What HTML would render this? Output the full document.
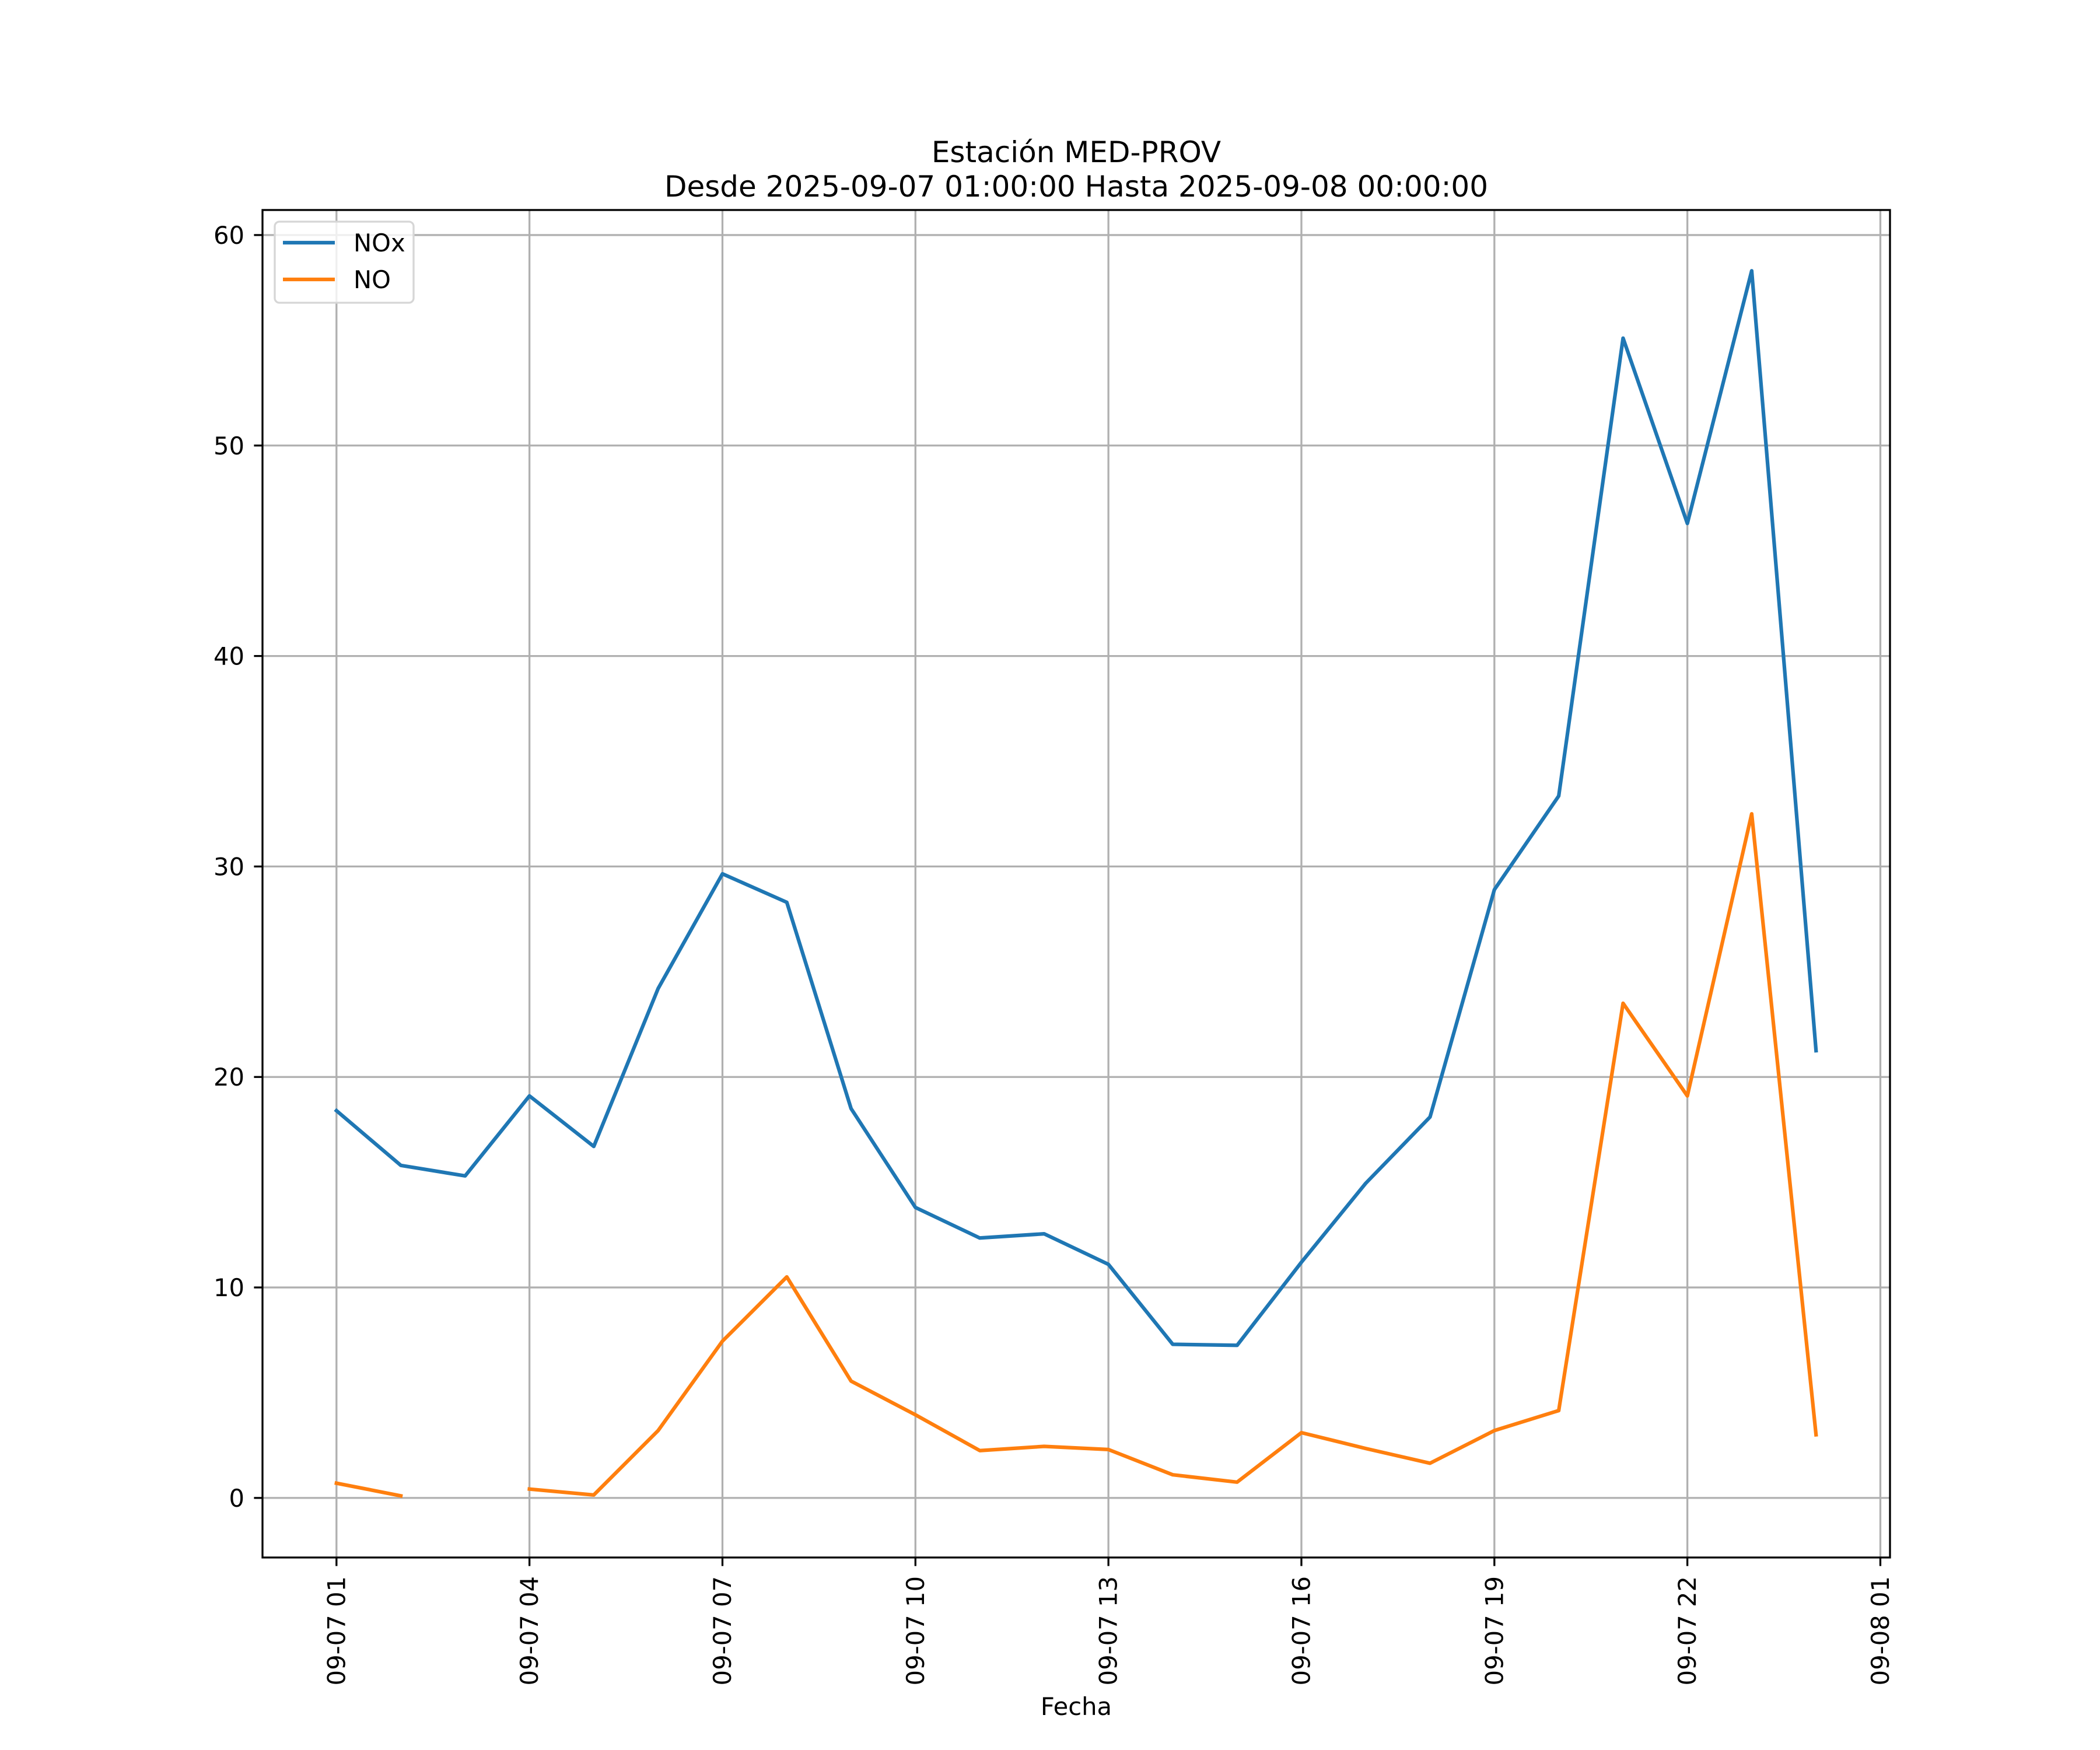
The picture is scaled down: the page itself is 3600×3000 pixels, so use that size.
<!DOCTYPE html>
<html><head><meta charset="utf-8"><style>html,body{margin:0;padding:0;background:#fff}svg{display:block}</style></head>
<body>
<svg id="chart" width="3600" height="3000" viewBox="0 0 3600 3000" xmlns="http://www.w3.org/2000/svg" font-family="DejaVu Sans, Liberation Sans, sans-serif">
<rect width="3600" height="3000" fill="#fff"/>
<text x="1845" y="278" font-size="50" text-anchor="middle">Estación MED-PROV</text>
<text x="1845" y="337" font-size="50" text-anchor="middle">Desde 2025-09-07 01:00:00 Hasta 2025-09-08 00:00:00</text>
<g id="grid"></g>
<g id="series"></g>
<rect x="450" y="360" width="2790" height="2310" fill="none" stroke="#000" stroke-width="3.3"/>
<g id="ticks"></g>
<text x="1845" y="2940" font-size="41.7" text-anchor="middle">Fecha</text>
<g>
<rect x="471" y="380" width="238" height="139" rx="8" fill="#fff" fill-opacity="0.8" stroke="#d6d6d6" stroke-width="3.3"/>
<line x1="485" y1="416" x2="574" y2="416" stroke="#1f77b4" stroke-width="6.25"/>
<text x="606" y="431" font-size="41.7">NOx</text>
<line x1="485" y1="479" x2="574" y2="479" stroke="#ff7f0e" stroke-width="6.25"/>
<text x="606" y="494" font-size="41.7">NO</text>
</g>
</svg>
<script>
const hours = [1,2,3,4,5,6,7,8,9,10,11,12,13,14,15,16,17,18,19,20,21,22,23,24];
const noxValues = [18.4,15.8,15.3,19.1,16.7,24.2,29.65,28.3,18.5,13.8,12.35,12.55,11.1,7.3,7.25,11.2,14.95,18.1,28.9,33.35,55.1,46.3,58.3,21.25];
const noValues = [0.7,0.1,null,0.42,0.14,3.2,7.45,10.5,5.55,3.95,2.25,2.45,2.3,1.1,0.75,3.1,2.35,1.65,3.2,4.15,23.5,19.1,32.5,3.0];
const yTicks = [0,10,20,30,40,50,60];
const xTickHours = [1,4,7,10,13,16,19,22,25];
const xTickLabels = ["09-07 01","09-07 04","09-07 07","09-07 10","09-07 13","09-07 16","09-07 19","09-07 22","09-08 01"];

const NS = "http://www.w3.org/2000/svg";
const L=450,R=3240,T=360,B=2670;
const xMin=1-1.15, xMax=24+1.15, yMin=-2.83, yMax=61.19;
function sx(h){return L+(h-xMin)/(xMax-xMin)*(R-L);}
function sy(v){return B-(v-yMin)/(yMax-yMin)*(B-T);}
function mk(tag,attrs,parent){const e=document.createElementNS(NS,tag);for(const k in attrs)e.setAttribute(k,attrs[k]);parent.appendChild(e);return e;}
const grid=document.getElementById('grid'), ticks=document.getElementById('ticks'), series=document.getElementById('series');

xTickHours.forEach((h,i)=>{
  const x=sx(h);
  if(x<=R+1){
    const g=mk('line',{x1:x,y1:T,x2:x,y2:B,stroke:'#b0b0b0','stroke-width':3.3},grid);
    
    
  }
  const t=mk('line',{x1:x,y1:B,x2:x,y2:B+14.6,stroke:'#000','stroke-width':3.3},ticks);
  
  
  const lb=mk('text',{x:0,y:0,'font-size':41.7,'text-anchor':'end','dominant-baseline':'central',transform:`translate(${x},2702) rotate(-90)`},ticks);
  lb.textContent=xTickLabels[i];
  
  
});
yTicks.forEach(v=>{
  const y=sy(v);
  const g=mk('line',{x1:L,y1:y,x2:R,y2:y,stroke:'#b0b0b0','stroke-width':3.3},grid);
  
  
  const t=mk('line',{x1:L-14.6,y1:y,x2:L,y2:y,stroke:'#000','stroke-width':3.3},ticks);
  
  
  const lb=mk('text',{x:419,y:y+15,'font-size':41.7,'text-anchor':'end'},ticks);
  lb.textContent=String(v);
  
  
});
function drawSeries(vals,color,name){
  let d='',pen=false;
  vals.forEach((v,i)=>{
    if(v===null){pen=false;return;}
    d+=(pen?'L':'M')+sx(hours[i]).toFixed(1)+' '+sy(v).toFixed(1)+' ';
    pen=true;
  });
  const p=mk('path',{d:d,fill:'none',stroke:color,'stroke-width':6.25,'stroke-linejoin':'round','stroke-linecap':'square'},series);
  
  
}
drawSeries(noxValues,'#1f77b4','nox-line');
drawSeries(noValues,'#ff7f0e','no-line');
</script>
</body></html>
